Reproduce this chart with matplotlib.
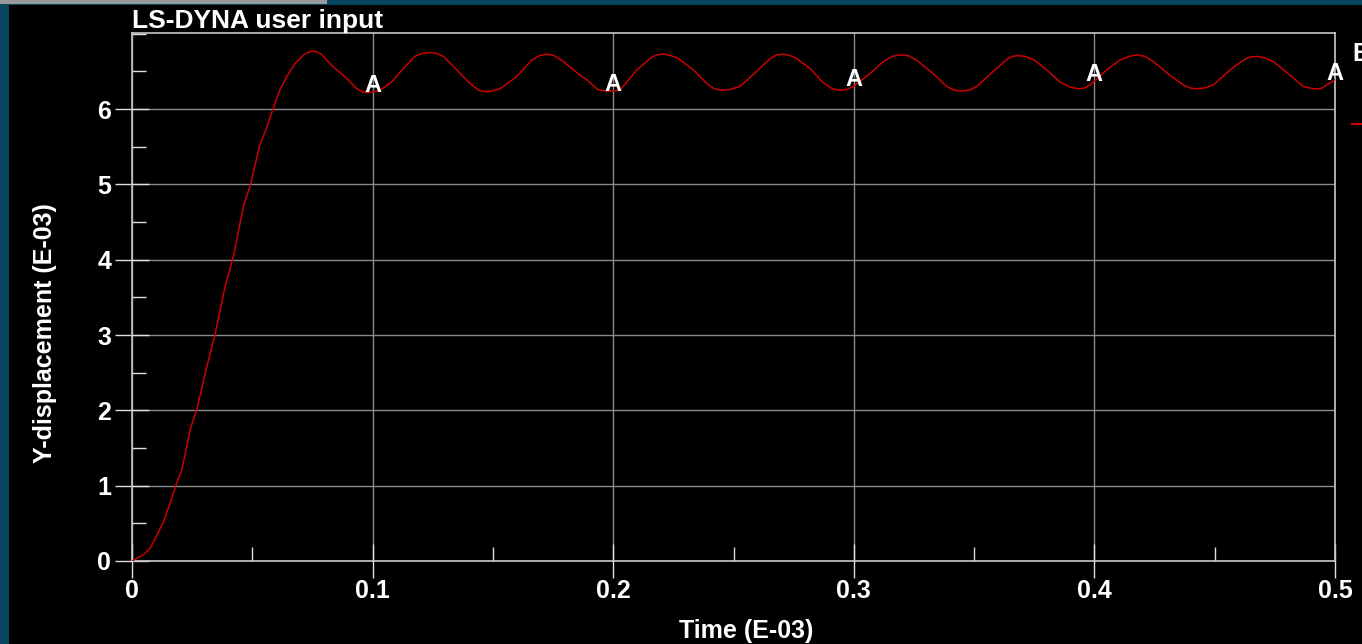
import numpy as np
import matplotlib.pyplot as plt
from matplotlib.patches import Rectangle
from matplotlib.lines import Line2D
from matplotlib.ticker import MultipleLocator

plt.rcParams['font.family'] = ['Liberation Sans', 'DejaVu Sans']
plt.rcParams['font.weight'] = 'bold'

# Y-displacement history (both axes in E-03)
time = [0.0, 0.0050, 0.0078, 0.0128, 0.0157, 0.0185, 0.0207, 0.0243, 0.0271,
        0.0307, 0.0345, 0.0386, 0.0421, 0.0464, 0.0493, 0.0529, 0.0557, 0.0586,
        0.0614, 0.0643, 0.0679, 0.0714, 0.0730, 0.0750, 0.0768, 0.0786, 0.0837,
        0.0892, 0.0934, 0.0958, 0.0982, 0.1005, 0.1031, 0.1079, 0.1128, 0.1176,
        0.1205, 0.1239, 0.1265, 0.1294, 0.1350, 0.1405, 0.1440, 0.1467, 0.1495,
        0.1530, 0.1599, 0.1661, 0.1695, 0.1724, 0.1755, 0.1793, 0.1862, 0.1890,
        0.1935, 0.1966, 0.1995, 0.2028, 0.2098, 0.2153, 0.2180, 0.2208, 0.2240,
        0.2271, 0.2333, 0.2389, 0.2420, 0.2451, 0.2485, 0.2527, 0.2596, 0.2652,
        0.2680, 0.2707, 0.2735, 0.2763, 0.2818, 0.2873, 0.2910, 0.2943, 0.2970,
        0.2998, 0.3067, 0.3123, 0.3160, 0.3192, 0.3225, 0.3261, 0.3330, 0.3386,
        0.3418, 0.3448, 0.3480, 0.3511, 0.3580, 0.3636, 0.3660, 0.3684, 0.3712,
        0.3746, 0.3802, 0.3857, 0.3900, 0.3933, 0.3960, 0.3982, 0.4051, 0.4106,
        0.4145, 0.4176, 0.4210, 0.4245, 0.4314, 0.4370, 0.4398, 0.4425, 0.4458,
        0.4494, 0.4564, 0.4619, 0.4645, 0.4675, 0.4708, 0.4744, 0.4813, 0.4868,
        0.4910, 0.4940, 0.4966, 0.5000]
y_disp = [0.0, 0.09, 0.18, 0.50, 0.75, 1.03, 1.21, 1.76, 2.03,
          2.53, 3.01, 3.63, 4.04, 4.72, 5.00, 5.50, 5.73, 6.00,
          6.25, 6.43, 6.61, 6.72, 6.75, 6.77, 6.76, 6.73, 6.56,
          6.41, 6.27, 6.23, 6.22, 6.23, 6.25, 6.36, 6.54, 6.70,
          6.74, 6.75, 6.74, 6.70, 6.52, 6.34, 6.25, 6.23, 6.24,
          6.27, 6.43, 6.65, 6.71, 6.73, 6.71, 6.63, 6.45, 6.39,
          6.26, 6.24, 6.24, 6.25, 6.52, 6.67, 6.72, 6.73, 6.71,
          6.67, 6.52, 6.34, 6.27, 6.25, 6.26, 6.30, 6.50, 6.67,
          6.72, 6.73, 6.71, 6.67, 6.54, 6.35, 6.27, 6.25, 6.26,
          6.30, 6.47, 6.63, 6.70, 6.72, 6.71, 6.65, 6.47, 6.30,
          6.25, 6.24, 6.25, 6.30, 6.50, 6.66, 6.70, 6.71, 6.70,
          6.66, 6.52, 6.36, 6.29, 6.27, 6.28, 6.32, 6.52, 6.65,
          6.70, 6.72, 6.70, 6.63, 6.45, 6.32, 6.28, 6.27, 6.28,
          6.32, 6.52, 6.65, 6.69, 6.70, 6.68, 6.63, 6.45, 6.30,
          6.27, 6.27, 6.32, 6.39]

curve_label = 'A'
label_times = [0.1, 0.2, 0.3, 0.4, 0.5]
x_ticks = [0, 0.1, 0.2, 0.3, 0.4, 0.5]
x_ticklabels = ['0', '0.1', '0.2', '0.3', '0.4', '0.5']
y_ticks = [0, 1, 2, 3, 4, 5, 6]

W, H = 1362, 644
fig = plt.figure(figsize=(W / 100, H / 100), dpi=100)
fig.patch.set_facecolor('#06475f')

# window chrome: black canvas, grey strip at the top-left
fig.patches.append(Rectangle((9 / W, 0), 1, 1 - 5 / H, transform=fig.transFigure,
                             facecolor='black', edgecolor='none', zorder=-2))
fig.patches.append(Rectangle((0, 1 - 4 / H), 327 / W, 4 / H, transform=fig.transFigure,
                             facecolor='#9a9a9a', edgecolor='none', zorder=-2))

ax = fig.add_axes([132 / W, 83 / H, (1335 - 132) / W, (561 - 33) / H])
ax.set_zorder(2)
ax.set_facecolor('black')
ax.plot(time, y_disp, color='#cc0000', lw=1.1, zorder=3)
ax.set_xlim(0, 0.5)
ax.set_ylim(0, 7.01)

ax.set_xticks(x_ticks)
ax.set_xticklabels(x_ticklabels)
ax.set_yticks(y_ticks)
ax.xaxis.set_minor_locator(MultipleLocator(0.05))
ax.yaxis.set_minor_locator(MultipleLocator(0.5))
ax.tick_params(which='major', direction='inout', length=24, width=1,
               color='#e0e0e0', labelcolor='white', labelsize=18, pad=3)
ax.tick_params(axis='x', which='major', pad=1)
ax.tick_params(which='minor', direction='in', length=10, width=1, color='#e0e0e0')
for lab in ax.get_xticklabels() + ax.get_yticklabels():
    lab.set_fontweight('bold')

ax.grid(True, which='major', color='#8a8a8a', lw=1, zorder=1)
for sp in ax.spines.values():
    sp.set_color('#c8c8c8')
    sp.set_linewidth(1.2)

# curve label letters sitting on the line
for t in label_times:
    ax.text(t, np.interp(t, time, y_disp), curve_label, color='white', fontsize=17,
            fontweight='bold', ha='center', va='baseline', zorder=4, clip_on=False)

fig.text(132 / W, 1 - 28 / H, 'LS-DYNA user input', color='white', fontsize=19,
         fontweight='bold', ha='left', va='baseline')
fig.text(746 / W, 1 - 631 / H, 'Time (E-03)', color='white', fontsize=18,
         fontweight='bold', ha='center', va='center')
fig.text(45 / W, 1 - 333 / H, 'Y-displacement (E-03)', color='white', fontsize=18,
         fontweight='bold', ha='center', va='center', rotation=90)

# legend, cut off at the right edge
fig.text(1352 / W, 1 - 54 / H, 'E', color='white', fontsize=18,
         fontweight='bold', ha='left', va='center')
fig.lines.append(Line2D([1352 / W, 1], [1 - 124 / H, 1 - 124 / H],
                        transform=fig.transFigure, color='#cc0000', lw=1.5))

fig.savefig('out.png', dpi=100, facecolor=fig.get_facecolor())
